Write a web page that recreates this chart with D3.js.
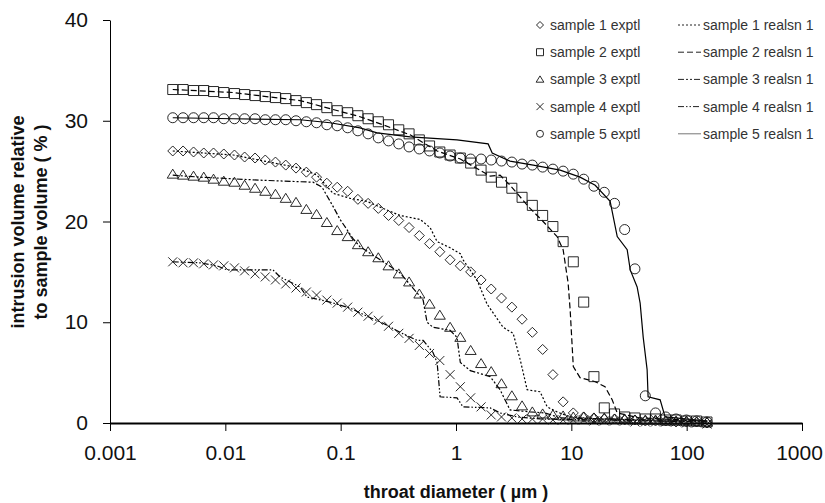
<!DOCTYPE html>
<head>
  <meta charset="utf-8">
  <script src="https://d3js.org/d3.v7.min.js"></script>
  <style>
    body { margin: 0; background: #fff; }
    text { font-family: "Liberation Sans", Arial, sans-serif; fill: #111; }
    .axis path, .axis line { stroke: #000; }
    .axis text { font-size: 21px; }
    .mark { fill: none; stroke: #111; stroke-width: 0.9px; }
    .fit { fill: none; stroke: #000; stroke-width: 1.2px; }
    .legend text { font-size: 14px; fill: #333; }
  </style>
</head>

<body>
  <script>
    var width = 825;
    var height = 503;

    // shared throat diameters (um) of the measured points
    var diam = [0.0035, 0.0043, 0.0053, 0.0065, 0.0079, 0.0097, 0.012, 0.0147, 0.0181, 0.0222,
                0.0272, 0.0334, 0.041, 0.0504, 0.0618, 0.0759, 0.0933, 0.115, 0.141, 0.173,
                0.212, 0.26, 0.319, 0.392, 0.481, 0.59, 0.724, 0.889, 1.09, 1.34,
                1.65, 2.02, 2.48, 3.05, 3.74, 4.59, 5.64, 6.92, 8.49, 10.4,
                12.8, 15.7, 19.3, 23.7, 29.0, 35.6, 43.8, 53.7, 65.9, 80.9,
                99.5, 122, 150];

    // experimental intrusion volume (%)
    var exp1 = [27.0,27.0,26.9,26.8,26.8,26.7,26.6,26.4,26.3,26.1,
                25.9,25.6,25.3,24.9,24.4,23.8,23.4,23.0,22.2,21.8,
                21.3,20.6,20.1,19.4,18.6,17.8,17.0,16.2,15.6,15.0,
                14.2,13.3,12.4,11.5,10.3,9.0,7.3,4.8,2.1,1.0,
                0.6,0.5,0.4,0.4,0.3,0.3,0.2,0.2,0.2,0.1,
                0.1,0.1,0.0];
    var exp2 = [33.1,33.1,33.0,33.0,32.9,32.8,32.7,32.6,32.5,32.4,
                32.3,32.2,32.0,31.8,31.6,31.3,31.0,30.8,30.5,30.2,
                29.9,29.6,29.1,28.7,28.1,27.5,26.9,26.6,26.3,25.8,
                25.1,24.4,23.9,23.3,22.4,21.6,20.6,19.5,18.0,16.0,
                12.0,4.6,1.5,0.9,0.6,0.5,0.4,0.4,0.3,0.3,
                0.2,0.2,0.1];
    var exp3 = [24.7,24.6,24.5,24.4,24.2,24.0,23.9,23.6,23.3,23.0,
                22.7,22.3,21.9,21.2,20.7,19.9,19.1,18.5,17.7,17.0,
                16.4,15.6,14.8,14.0,12.8,11.8,10.7,9.5,8.5,7.2,
                5.9,5.1,3.9,2.7,1.7,1.1,0.9,0.8,0.7,0.6,
                0.6,0.5,0.5,0.4,0.4,0.3,0.3,0.3,0.2,0.2,
                0.2,0.1,0.1];
    var exp4 = [16.0,15.9,15.9,15.8,15.7,15.6,15.4,15.1,14.8,14.5,
                14.2,13.8,13.4,13.0,12.7,12.2,11.9,11.5,11.0,10.6,
                10.2,9.6,8.9,8.4,7.7,6.9,6.2,4.8,3.6,2.5,
                1.6,0.8,0.6,0.5,0.4,0.4,0.4,0.3,0.3,0.3,
                0.3,0.2,0.2,0.2,0.2,0.1,0.1,0.1,0.1,0.1,
                0.0,0.0,-0.1];
    var exp5 = [30.3,30.3,30.3,30.3,30.3,30.2,30.2,30.2,30.2,30.1,
                30.1,30.1,30.0,29.9,29.8,29.6,29.5,29.3,29.0,28.7,
                28.3,28.0,27.7,27.4,27.2,27.0,26.8,26.5,26.3,26.2,
                26.2,26.1,26.0,25.9,25.7,25.6,25.4,25.2,25.0,24.7,
                24.2,23.5,22.9,21.8,19.2,15.3,2.7,1.0,0.6,0.4,
                0.3,0.2,0.1];

    // realisation curves: diameters and volumes
    var fitD1 = [0.0035,0.0117,0.0445,0.0624,0.0859,0.121,0.169,0.233,0.327,0.489,0.596,0.686,0.889,1.09,1.15,1.52,1.86,2.56,3.13,3.60,4.14,5.36,6.17,7.53,9.77,17.8,58.9,151];
    var fitV1 = [27.0,26.6,25.3,24.6,22.8,22.3,22.0,21.3,20.6,20.2,19.4,18.0,17.4,16.8,16.2,14.2,11.8,9.5,8.9,6.3,3.3,3.1,1.6,1.1,0.6,0.4,0.2,0.1];
    var fitD2 = [0.0035,0.0117,0.0445,0.0809,0.147,0.233,0.400,0.686,1.09,1.98,2.41,2.94,4.39,5.69,7.53,8.49,9.38,9.77,10.4,11.9,16.1,19.6,22.6,25.0,39.5,151];
    var fitV2 = [33.1,32.8,32.0,31.2,30.4,29.6,28.6,27.0,26.2,24.5,24.6,23.6,21.3,20.0,18.5,17.2,13.9,11.2,5.6,4.5,4.1,3.6,2.3,1.0,0.5,0.2];
    var fitD3 = [0.0035,0.00604,0.0200,0.0577,0.0690,0.0859,0.0989,0.128,0.147,0.220,0.327,0.519,0.561,0.632,0.889,1.02,1.09,1.33,1.98,2.41,2.94,4.39,5.93,8.00,151];
    var fitV3 = [24.6,24.4,24.1,23.9,23.4,21.5,20.2,18.3,17.5,16.2,14.9,12.2,10.0,9.5,9.2,8.5,6.0,5.2,4.6,3.3,1.3,1.1,1.0,0.5,0.2];
    var fitD4 = [0.0035,0.00604,0.00848,0.01035,0.0259,0.0298,0.0445,0.0512,0.0809,0.121,0.169,0.233,0.327,0.460,0.519,0.632,0.686,0.728,1.02,1.15,1.98,2.41,3.39,5.36,151];
    var fitV4 = [16.0,15.9,15.6,15.2,15.2,14.5,13.5,12.5,12.0,11.4,10.6,9.9,9.0,8.2,8.2,7.0,6.0,2.6,2.5,1.6,1.5,1.0,0.6,0.4,0.1];
    var fitD5 = [0.0035,0.0117,0.0445,0.0809,0.147,0.207,0.400,1.02,1.90,2.06,2.94,4.67,8.00,11.9,16.1,21.7,25.0,30.5,32.4,37.2,39.5,42.0,45.4,46.3,58.9,65.0,151];
    var fitV5 = [30.3,30.2,30.1,29.8,29.3,28.8,28.4,28.1,27.7,26.8,26.0,25.6,25.1,24.4,23.6,22.0,18.5,17.2,15.2,13.5,11.9,8.5,5.3,2.6,2.3,0.6,0.2];

    var xTicks = [0.001, 0.01, 0.1, 1, 10, 100, 1000];
    var xTickLabels = ["0.001", "0.01", "0.1", "1", "10", "100", "1000"];
    var yTicks = [0, 10, 20, 30, 40];

    var expNames = ["sample 1 exptl", "sample 2 exptl", "sample 3 exptl", "sample 4 exptl", "sample 5 exptl"];
    var fitNames = ["sample 1 realsn 1", "sample 2 realsn 1", "sample 3 realsn 1", "sample 4 realsn 1", "sample 5 realsn 1"];
    var shapes = ["diamond", "square", "triangle", "cross", "circle"];
    var dashes = ["2,2", "6,3", "6,2,2,2,2,2", "6,2,1.5,2,1.5,2", null];

    var svg = d3.select("body").append("svg")
        .attr("width", width)
        .attr("height", height);

    var x = d3.scaleLog().domain([0.001, 1000]).range([110, 802]);
    var y = d3.scaleLinear().domain([0, 40]).range([423, 20]);

    // marker path of a given shape, centered at 0,0, s = half size
    function shapePath(shape, s) {
      if (shape == "diamond") return "M0," + (-s) + "L" + s + ",0L0," + s + "L" + (-s) + ",0Z";
      if (shape == "square") return "M" + (-s) + "," + (-s) + "h" + (2*s) + "v" + (2*s) + "h" + (-2*s) + "Z";
      if (shape == "triangle") return "M0," + (-s) + "L" + (s*1.1) + "," + (s*0.8) + "L" + (-s*1.1) + "," + (s*0.8) + "Z";
      if (shape == "cross") return "M" + (-s) + "," + (-s) + "L" + s + "," + s + "M" + s + "," + (-s) + "L" + (-s) + "," + s;
      var r = s;
      return "M" + r + ",0A" + r + "," + r + " 0 1,1 " + (-r) + ",0A" + r + "," + r + " 0 1,1 " + r + ",0Z";
    }

    // axes
    var xAxis = d3.axisBottom(x).tickValues(xTicks)
        .tickFormat(function (d, i) { return xTickLabels[i]; })
        .tickSize(8).tickSizeOuter(0).tickPadding(14);
    var gx = svg.append("g").attr("class", "axis")
        .attr("transform", "translate(0," + y(0) + ")")
        .call(xAxis);
    gx.select(".domain").attr("stroke-width", 1.8);
    // last label sits on the page edge, pull it in a little
    gx.selectAll(".tick text").filter(function (d) { return d == 1000; }).attr("dx", -3);

    var yAxis = d3.axisLeft(y).tickValues(yTicks)
        .tickSize(7).tickSizeOuter(0).tickPadding(15);
    svg.append("g").attr("class", "axis")
        .attr("transform", "translate(" + x(0.001) + ",0)")
        .call(yAxis);
    svg.selectAll(".axis text").attr("font-family", null).attr("font-size", null);

    // axis titles
    svg.append("text")
        .attr("x", 456).attr("y", 498)
        .attr("text-anchor", "middle")
        .style("font-size", "18px").style("font-weight", "bold")
        .text("throat diameter ( \u00b5m )");
    var yt = svg.append("text")
        .attr("transform", "translate(24,222) rotate(-90)")
        .attr("text-anchor", "middle")
        .style("font-size", "18px").style("font-weight", "bold");
    yt.append("tspan").attr("x", 0).attr("y", 0).text("intrusion volume relative");
    yt.append("tspan").attr("x", 0).attr("y", 23).text("to sample volume ( % )");

    // realisation lines
    var fits = [[fitD1, fitV1], [fitD2, fitV2], [fitD3, fitV3], [fitD4, fitV4], [fitD5, fitV5]];
    var line = d3.line()
        .x(function (d) { return x(d[0]); })
        .y(function (d) { return y(d[1]); });
    fits.forEach(function (f, k) {
      var pts = f[0].map(function (d, i) { return [d, f[1][i]]; });
      svg.append("path")
          .attr("class", "fit")
          .attr("d", line(pts))
          .attr("stroke-dasharray", dashes[k]);
    });

    // experimental markers
    var exps = [exp1, exp2, exp3, exp4, exp5];
    exps.forEach(function (vals, k) {
      svg.append("g").selectAll("path")
        .data(vals)
        .enter().append("path")
          .attr("class", "mark")
          .attr("transform", function (d, i) { return "translate(" + x(diam[i]) + "," + y(d) + ")"; })
          .attr("d", shapePath(shapes[k], k == 3 ? 4.5 : 5));
    });

    // legend
    var leg = svg.append("g").attr("class", "legend");
    expNames.forEach(function (name, k) {
      var ly = 25 + k * 27.2;
      leg.append("path")
          .attr("class", "mark")
          .attr("stroke", "#444")
          .attr("transform", "translate(540," + ly + ")")
          .attr("d", shapePath(shapes[k], 3.5));
      leg.append("text").attr("x", 550).attr("y", ly + 5).text(name);
      leg.append("line")
          .attr("x1", 678).attr("x2", 701).attr("y1", ly).attr("y2", ly)
          .attr("stroke", k == 4 ? "#777" : "#222")
          .attr("stroke-width", 1)
          .attr("stroke-dasharray", dashes[k]);
      leg.append("text").attr("x", 703).attr("y", ly + 5).text(fitNames[k]);
    });
  </script>
</body>
